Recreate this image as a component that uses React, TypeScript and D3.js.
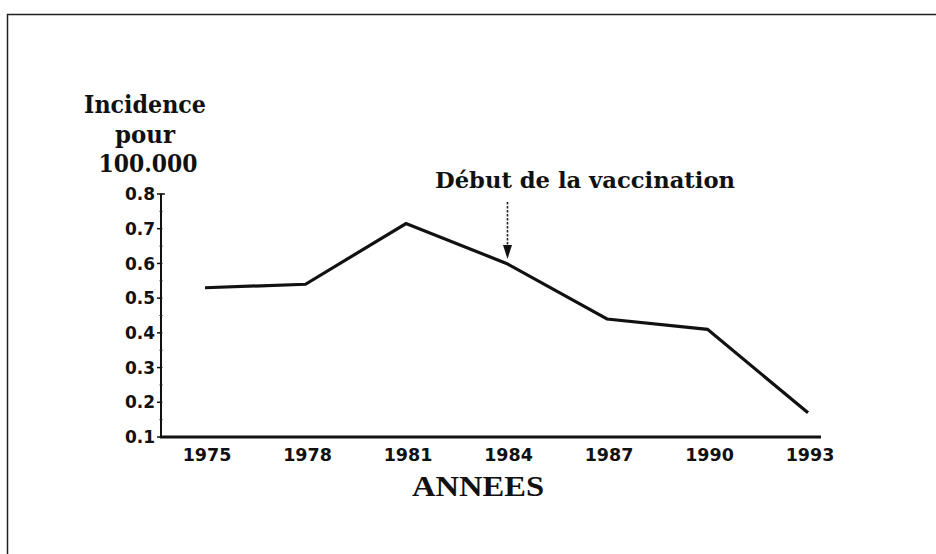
import React from "react";
import * as d3 from "d3";

const years = [1975, 1978, 1981, 1984, 1987, 1990, 1993];
const incidence = [0.53, 0.54, 0.715, 0.6, 0.44, 0.41, 0.17];
const yTicks = [0.1, 0.2, 0.3, 0.4, 0.5, 0.6, 0.7, 0.8];
const yTickLabels = ["0.1", "0.2", "0.3", "0.4", "0.5", "0.6", "0.7", "0.8"];
const xTickLabels = ["1975", "1978", "1981", "1984", "1987", "1990", "1993"];
const yTitleLines = ["Incidence", "pour", "100.000"];
const annotationYear = 1984;
const annotationText = "Début de la vaccination";
const xTitle = "ANNEES";

export default function App() {
  const W = 936;
  const H = 554;
  const x = d3.scaleLinear().domain([1975, 1993]).range([205, 808]);
  const y = d3.scaleLinear().domain([0.1, 0.8]).range([437, 194]);
  const line = d3
    .line<number>()
    .x((_, i) => x(years[i]))
    .y((d) => y(d));
  const minor = d3.range(0.1, 0.8001, 0.05);
  const axisX0 = 161;
  const axisX1 = 821;
  const ax = x(annotationYear) + 1;

  const sans = "'DejaVu Sans', sans-serif";
  const serif = "'DejaVu Serif', serif";

  const titleSpec = [
    { t: yTitleLines[0], cx: 145, by: 113, len: 122 },
    { t: yTitleLines[1], cx: 145, by: 143, len: 60 },
    { t: yTitleLines[2], cx: 148, by: 172, len: 99 },
  ];

  return (
    <svg
      width={W}
      height={H}
      style={{ position: "absolute", left: 0, top: 0, background: "#fff" }}
    >
      <rect x={0} y={0} width={W} height={H} fill="#fff" />
      <rect
        x={7.5}
        y={14.5}
        width={W + 20}
        height={H + 20}
        fill="none"
        stroke="#222"
        strokeWidth={1.5}
      />

      {/* Y title */}
      {titleSpec.map((s, i) => (
        <text
          key={i}
          x={s.cx - s.len / 2}
          y={s.by}
          fontFamily={serif}
          fontWeight="bold"
          fontSize={24}
          textLength={s.len}
          lengthAdjust="spacingAndGlyphs"
          fill="#111"
        >
          {s.t}
        </text>
      ))}

      {/* Y axis */}
      <line x1={axisX0} x2={axisX0} y1={y(0.8)} y2={y(0.1) + 1} stroke="#111" strokeWidth={2} />
      {minor.map((v, i) => (
        <line
          key={"m" + i}
          x1={axisX0 - 1.5}
          x2={axisX0 + 1.5}
          y1={y(v)}
          y2={y(v)}
          stroke="#222"
          strokeWidth={1}
        />
      ))}
      {yTicks.map((v, i) => (
        <g key={"yt" + i}>
          <line
            x1={axisX0 - 4}
            x2={axisX0 + (v === 0.8 ? 4 : 0)}
            y1={y(v)}
            y2={y(v)}
            stroke="#111"
            strokeWidth={1.5}
          />
          <text
            x={155}
            y={y(v)}
            dy="0.36em"
            textAnchor="end"
            fontFamily={sans}
            fontWeight="bold"
            fontSize={17}
            fill="#111"
          >
            {yTickLabels[i]}
          </text>
        </g>
      ))}

      {/* X axis */}
      <line x1={axisX0 - 1} x2={axisX1} y1={437} y2={437} stroke="#111" strokeWidth={2.8} />
      {years.map((yr, i) => (
        <text
          key={"xt" + i}
          x={x(yr) + 2}
          y={461}
          textAnchor="middle"
          fontFamily={sans}
          fontWeight="bold"
          fontSize={17.5}
          fill="#111"
        >
          {xTickLabels[i]}
        </text>
      ))}
      <text
        x={478 - 66}
        y={496}
        fontFamily="'Liberation Serif', serif"
        fontWeight="bold"
        fontSize={30}
        textLength={132}
        lengthAdjust="spacingAndGlyphs"
        fill="#111"
      >
        {xTitle}
      </text>

      {/* Data line */}
      <path
        d={line(incidence) || ""}
        fill="none"
        stroke="#111"
        strokeWidth={3.2}
        strokeLinejoin="miter"
      />

      {/* Annotation */}
      <text
        x={435}
        y={188}
        fontFamily={serif}
        fontWeight="bold"
        fontSize={22}
        textLength={300}
        lengthAdjust="spacingAndGlyphs"
        fill="#111"
      >
        {annotationText}
      </text>
      <line
        x1={ax}
        x2={ax}
        y1={202}
        y2={246}
        stroke="#222"
        strokeWidth={1.6}
        strokeDasharray="2.5,1.5"
      />
      <path
        d={`M${ax - 4.5},${245} L${ax + 4.5},${245} L${ax},${259} Z`}
        fill="#111"
      />
    </svg>
  );
}
